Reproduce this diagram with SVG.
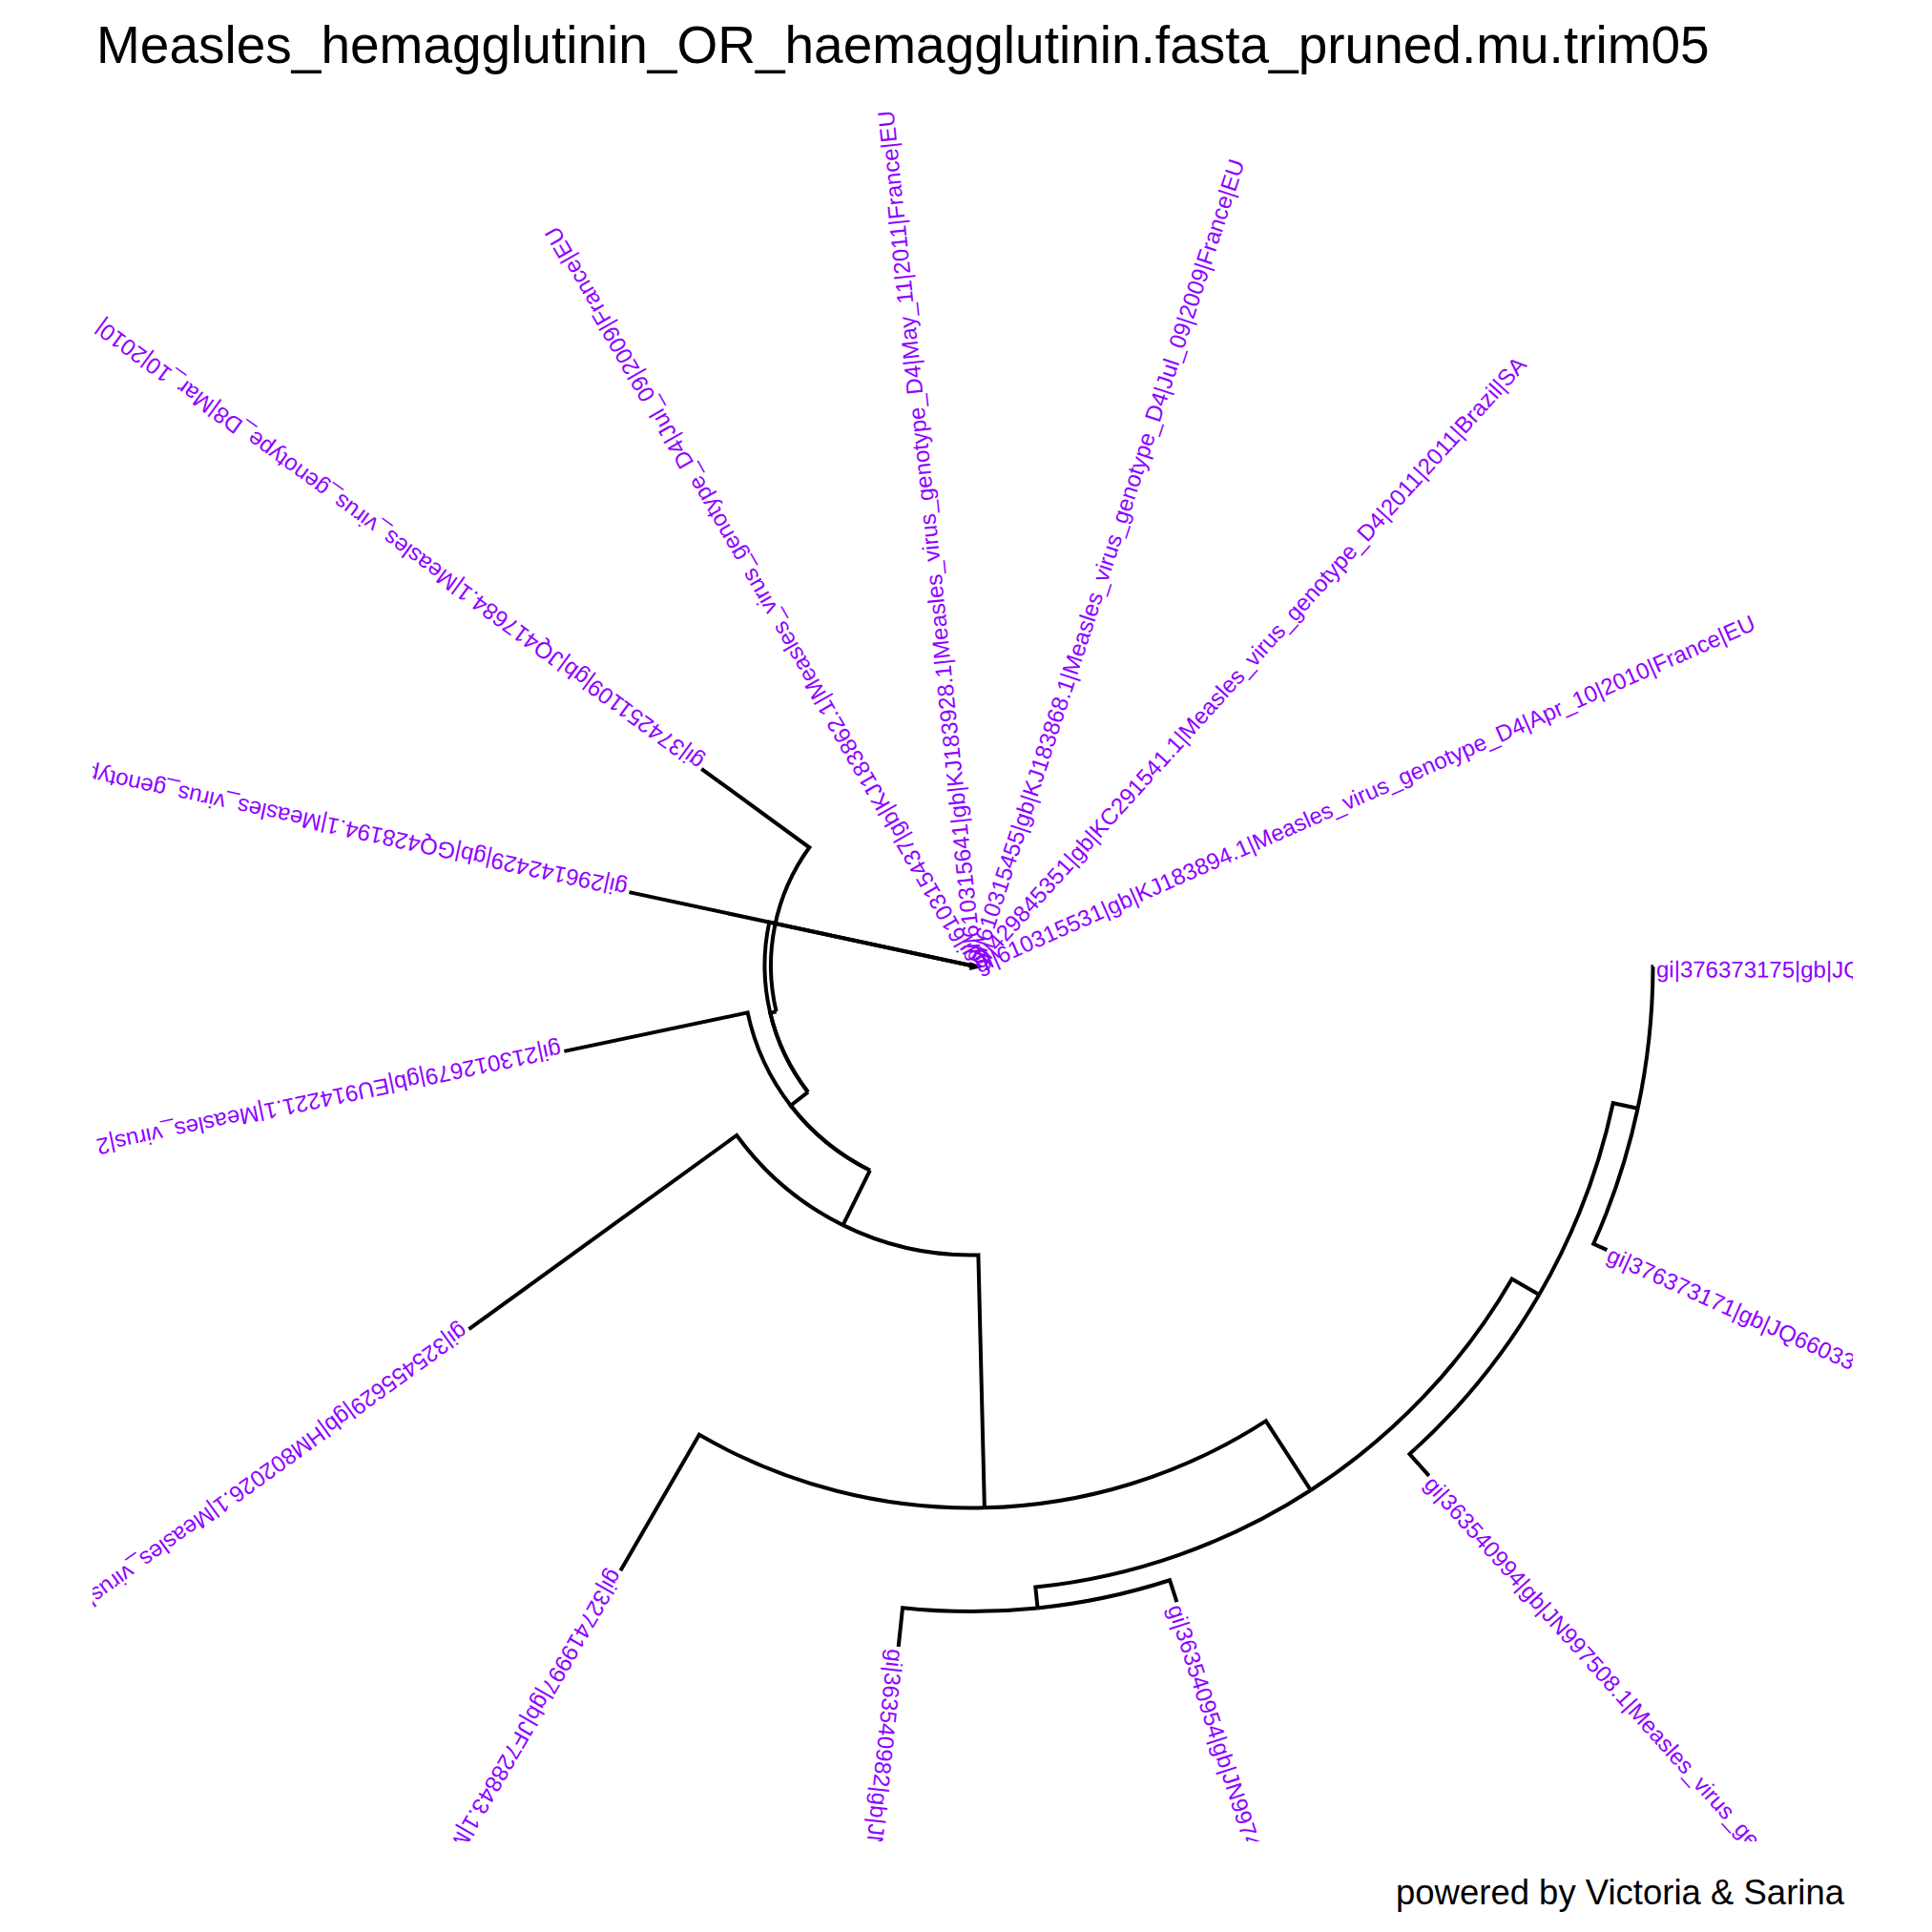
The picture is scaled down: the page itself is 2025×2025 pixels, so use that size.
<svg xmlns="http://www.w3.org/2000/svg" width="2025" height="2025" viewBox="0 0 2025 2025">
<defs>
<style>
.e{fill:none;stroke:#000;stroke-width:4;stroke-linejoin:miter;stroke-linecap:butt}
.lab{font-family:"Liberation Sans",Arial,Helvetica,sans-serif;font-size:24px;fill:#8F00FF}
.title{font-family:"Liberation Sans",Arial,Helvetica,sans-serif;font-size:55px;fill:#000}
.foot{font-family:"Liberation Sans",Arial,Helvetica,sans-serif;font-size:36.5px;fill:#000}
</style>
<clipPath id="panel"><rect x="97" y="100" width="1845" height="1830"/></clipPath>
</defs>
<rect width="2025" height="2025" fill="#fff"/>
<text class="title" x="101" y="66">Measles_hemagglutinin_OR_haemagglutinin.fasta_pruned.mu.trim05</text>

<g id="connectors">
<path class="e" d="M883.05,1283.85 A303.5,303.5 0 0 0 1025.41,1315.41 L1031.89,1580.33"/>
<path class="e" d="M883.53,1284.08 L911.88,1226.71"/>
<path class="e" d="M883.05,1283.85 A303.5,303.5 0 0 1 772.15,1189.97 L491.47,1393.15"/>
<path class="e" d="M1031.89,1580.33 A568.5,568.5 0 0 0 1326.80,1489.32 L1373.78,1561.95"/>
<path class="e" d="M1031.89,1580.33 A568.5,568.5 0 0 1 732.89,1503.85 L650.39,1646.16"/>
<path class="e" d="M1373.78,1561.95 A655,655 0 0 0 1584.68,1340.49 L1613.23,1357.04"/>
<path class="e" d="M1373.78,1561.95 A655,655 0 0 1 1085.33,1663.53 L1087.59,1685.41"/>
<path class="e" d="M1613.23,1357.04 A688,688 0 0 0 1690.72,1156.22 L1716.62,1161.77"/>
<path class="e" d="M1613.23,1357.04 A688,688 0 0 1 1477.47,1524.09 L1497.84,1546.79"/>
<path class="e" d="M1716.62,1161.77 A714.5,714.5 0 0 0 1732.5,1013.25 L1733,1013.25"/>
<path class="e" d="M1716.62,1161.77 A714.5,714.5 0 0 1 1670.21,1303.75 L1684.37,1310.08"/>
<path class="e" d="M1087.59,1685.41 A677,677 0 0 0 1226.08,1656.23 L1233.46,1679.07"/>
<path class="e" d="M1087.59,1685.41 A677,677 0 0 1 946.06,1685.17 L941.70,1725.94"/>
<path class="e" d="M911.88,1226.71 A239.5,239.5 0 0 1 828.76,1158.79 L846.93,1144.70"/>
<path class="e" d="M911.88,1226.71 A239.5,239.5 0 0 1 783.65,1061.38 L591.37,1101.90"/>
<path class="e" d="M846.93,1144.70 A216.5,216.5 0 0 1 807.31,1061.81 L813.63,1060.31"/>
<path class="e" d="M846.93,1144.70 A216.5,216.5 0 0 1 806.31,966.62 L1018,1012"/>
<path class="e" d="M813.63,1060.31 A210,210 0 0 1 848.32,888.27 L735.20,805.78"/>
<path class="e" d="M1018,1012 L659.44,935.13"/>
<path class="e" d="M1016,1010 L1024,1013 L1016,1015"/>
</g>

<g clip-path="url(#panel)">
<g id="tip-T10"><text class="lab" transform="translate(1018 1012) rotate(0.1)" x="718" dy="0.46em">gi|376373175|gb|JQ</text></g>
<g id="tip-T9"><text class="lab" transform="translate(1018 1012) rotate(24.1)" x="733" dy="0.46em">gi|376373171|gb|JQ66033</text></g>
<g id="tip-T8"><text class="lab" transform="translate(1018 1012) rotate(48.1)" x="721.5" dy="0.46em">gi|363540994|gb|JN997508.1|Measles_virus_gen</text></g>
<g id="tip-T7"><text class="lab" transform="translate(1018 1012) rotate(72.1)" x="704" dy="0.46em">gi|363540954|gb|JN9974</text></g>
<g id="tip-T6"><text class="lab" transform="translate(1018 1012) rotate(96.1)" x="721" dy="0.46em">gi|363540982|gb|JN</text></g>
<g id="tip-T5"><text class="lab" transform="translate(1018 1012) rotate(120.1)" x="736" dy="0.46em">gi|327419997|gb|JF728843.1|M</text></g>
<g id="tip-T4"><text class="lab" transform="translate(1018 1012) rotate(144.1)" x="653" dy="0.46em">gi|325455629|gb|HM802026.1|Measles_virus|</text></g>
<g id="tip-T3"><text class="lab" transform="translate(1018 1012) rotate(168.1)" x="439" dy="0.46em">gi|213012679|gb|EU914221.1|Measles_virus|2</text></g>
<g id="tip-T2"><text class="lab" transform="translate(1018 1012) rotate(192.1)" x="370" dy="0.46em">gi|296142429|gb|GQ428194.1|Measles_virus_genotype</text></g>
<g id="tip-T1"><text class="lab" transform="translate(1018 1012) rotate(216.1)" x="353" dy="0.46em">gi|374251109|gb|JQ417684.1|Measles_virus_genotype_D8|Mar_10|2010|</text></g>
<g id="tip-D4a"><text class="lab" transform="translate(1018 1012) rotate(240.1)" x="4" dy="0.46em">gi|610315437|gb|KJ183862.1|Measles_virus_genotype_D4|Jul_09|2009|France|EU</text></g>
<g id="tip-D4b"><text class="lab" transform="translate(1018 1012) rotate(264.1)" x="4" dy="0.46em">gi|610315641|gb|KJ183928.1|Measles_virus_genotype_D4|May_11|2011|France|EU</text></g>
<g id="tip-D4c"><text class="lab" transform="translate(1018 1012) rotate(288.1)" x="4" dy="0.46em">gi|610315455|gb|KJ183868.1|Measles_virus_genotype_D4|Jul_09|2009|France|EU</text></g>
<g id="tip-D4d"><text class="lab" transform="translate(1018 1012) rotate(312.1)" x="4" dy="0.46em">gi|429845351|gb|KC291541.1|Measles_virus_genotype_D4|2011|2011|Brazil|SA</text></g>
<g id="tip-D4e"><text class="lab" transform="translate(1018 1012) rotate(336.1)" x="4" dy="0.46em">gi|610315531|gb|KJ183894.1|Measles_virus_genotype_D4|Apr_10|2010|France|EU</text></g>
</g>

<text class="foot" x="1933" y="1996" text-anchor="end">powered by Victoria &amp; Sarina</text>
</svg>
